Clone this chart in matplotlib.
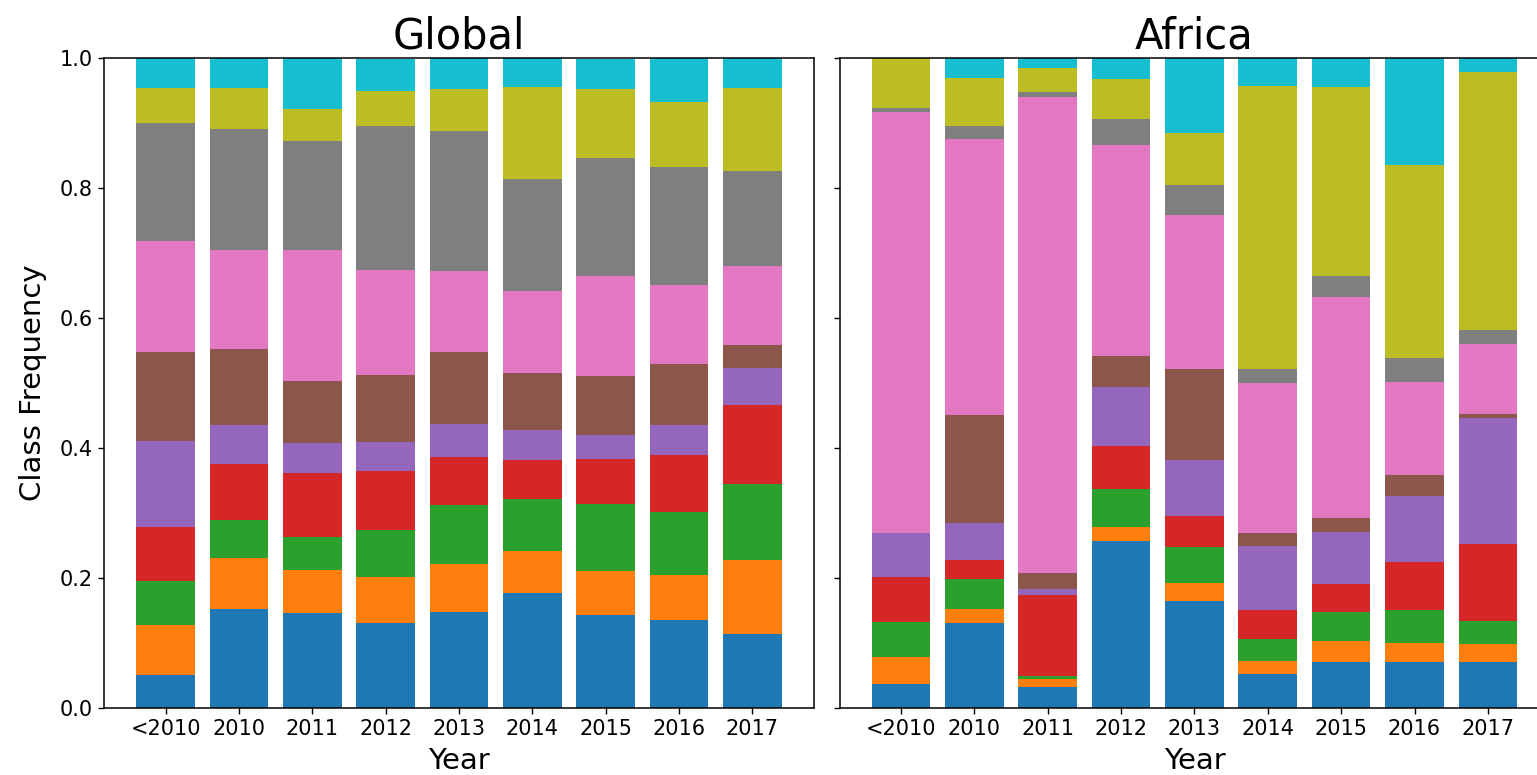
import numpy as np
import matplotlib
matplotlib.use("Agg")
import matplotlib.pyplot as plt

years = ["<2010", "2010", "2011", "2012", "2013", "2014", "2015", "2016", "2017"]

# class shares per year, columns are the 10 classes (C0..C9 colours)
global_freq = [
    [0.050, 0.078, 0.067, 0.084, 0.131, 0.138, 0.170, 0.182, 0.054, 0.046],
    [0.152, 0.078, 0.059, 0.087, 0.059, 0.118, 0.151, 0.186, 0.064, 0.046],
    [0.146, 0.067, 0.050, 0.098, 0.046, 0.096, 0.201, 0.169, 0.048, 0.079],
    [0.130, 0.071, 0.073, 0.090, 0.045, 0.104, 0.161, 0.222, 0.053, 0.050],
    [0.148, 0.073, 0.091, 0.074, 0.051, 0.111, 0.125, 0.214, 0.066, 0.047],
    [0.177, 0.064, 0.081, 0.060, 0.046, 0.087, 0.126, 0.173, 0.141, 0.046],
    [0.143, 0.068, 0.103, 0.069, 0.037, 0.091, 0.153, 0.182, 0.106, 0.047],
    [0.136, 0.069, 0.096, 0.088, 0.046, 0.094, 0.121, 0.182, 0.101, 0.067],
    [0.114, 0.114, 0.116, 0.122, 0.057, 0.035, 0.122, 0.146, 0.128, 0.047],
]

africa_freq = [
    [0.037, 0.042, 0.053, 0.070, 0.067, 0.000, 0.648, 0.006, 0.079, 0.000],
    [0.130, 0.023, 0.045, 0.029, 0.057, 0.166, 0.426, 0.020, 0.073, 0.031],
    [0.032, 0.012, 0.005, 0.125, 0.009, 0.024, 0.733, 0.008, 0.037, 0.015],
    [0.257, 0.022, 0.058, 0.066, 0.091, 0.047, 0.325, 0.040, 0.062, 0.032],
    [0.165, 0.028, 0.055, 0.048, 0.086, 0.140, 0.237, 0.045, 0.080, 0.117],
    [0.052, 0.021, 0.033, 0.045, 0.098, 0.020, 0.231, 0.022, 0.435, 0.044],
    [0.070, 0.033, 0.045, 0.043, 0.080, 0.022, 0.339, 0.032, 0.292, 0.044],
    [0.070, 0.030, 0.050, 0.075, 0.101, 0.033, 0.143, 0.036, 0.297, 0.165],
    [0.070, 0.028, 0.036, 0.118, 0.194, 0.007, 0.107, 0.022, 0.397, 0.023],
]


def stacked(ax, freq, title):
    freq = np.array(freq)
    x = np.arange(len(years))
    bottom = np.zeros(len(years))
    for k in range(freq.shape[1]):
        ax.bar(x, freq[:, k], bottom=bottom, color="C%d" % k, width=0.8)
        bottom += freq[:, k]
    ax.set_ylim(0, 1)
    ax.set_xticks(x)
    ax.set_xticklabels(years)
    ax.set_title(title, fontsize=30)
    ax.set_xlabel("Year", fontsize=21, labelpad=6)
    ax.tick_params(labelsize=15, width=1.0, length=4.5)
    for s in ax.spines.values():
        s.set_linewidth(1.1)


fig = plt.figure(figsize=(15.37, 7.75), dpi=100)
ax1 = fig.add_axes([0.0677, 0.0865, 0.4619, 0.8387])
ax2 = fig.add_axes([0.5462, 0.0865, 0.4619, 0.8387])

stacked(ax1, global_freq, "Global")
stacked(ax2, africa_freq, "Africa")
ax1.set_ylabel("Class Frequency", fontsize=21, labelpad=9)
ax2.tick_params(labelleft=False)

fig.savefig("out.png", dpi=100)
